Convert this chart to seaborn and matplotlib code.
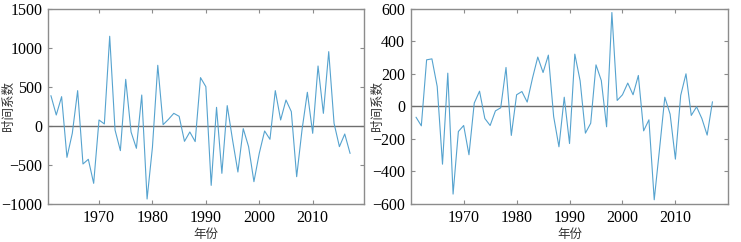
import numpy as np
import pandas as pd
import matplotlib
matplotlib.use("Agg")
import matplotlib.pyplot as plt
import seaborn as sns

# data
years = list(range(1961, 2018))
coef_left = [389, 141, 376, -402, -94, 453, -487, -427, -735, 77,
             26, 1150, -51, -316, 598, -77, -286, 397, -936, -274,
             778, 17, 85, 162, 124, -197, -77, -200, 620, 504,
             -761, 239, -607, 261, -179, -590, -34, -265, -714, -350,
             -64, -171, 453, 77, 333, 184, -650, -51, 432, -94,
             769, 162, 953, 34, -265, -103, -352]
coef_right = [-66, -119, 287, 293, 123, -355, 205, -539, -154, -117,
              -297, 21, 94, -74, -117, -27, -8, 240, -178, 72,
              92, 27, 174, 304, 209, 316, -62, -248, 57, -228,
              322, 158, -164, -103, 256, 160, -125, 578, 37, 72,
              144, 72, 191, -150, -82, -574, -263, 57, -47, -324,
              68, 201, -55, -2, -74, -176, 29]

df = pd.DataFrame({"year": years, "left": coef_left, "right": coef_right})

sns.set_theme(style="ticks")
plt.rcParams['font.family'] = ['Liberation Serif', 'Noto Sans CJK SC']
plt.rcParams['axes.unicode_minus'] = True
plt.rcParams['xtick.direction'] = 'in'
plt.rcParams['ytick.direction'] = 'in'

line_color = '#56a3cf'
spine_color = '#8c8c8c'
cjk = ['Noto Sans CJK SC', 'DejaVu Sans']

fig = plt.figure(figsize=(7.41, 2.42), dpi=100)
ax1 = fig.add_axes([0.0644, 0.157, 0.4268, 0.806])
ax2 = fig.add_axes([0.5543, 0.157, 0.4286, 0.806])

panels = [
    (ax1, "left", (-1000, 1500), [-1000, -500, 0, 500, 1000, 1500], (1960.4, 2019.6), -0.125),
    (ax2, "right", (-600, 600), [-600, -400, -200, 0, 200, 400, 600], (1960, 2020), -0.106),
]

for ax, col, ylim, yticks, xlim, ylab_x in panels:
    ax.axhline(0, color='#6e6e6e', lw=1.0, zorder=1)
    sns.lineplot(data=df, x="year", y=col, ax=ax, color=line_color, lw=0.8, zorder=2)
    ax.set_xlim(*xlim)
    ax.set_ylim(*ylim)
    ax.set_xticks([1970, 1980, 1990, 2000, 2010])
    ax.set_yticks(yticks)
    ax.tick_params(axis='both', which='both', top=True, right=True,
                   labelsize=11.5, length=3, width=0.8, color=spine_color,
                   pad=4, labelcolor='#000000')
    for s in ax.spines.values():
        s.set_color(spine_color)
        s.set_linewidth(1.0)
    ax.set_xlabel("年份", family=cjk, fontsize=9, color='#333333')
    ax.set_ylabel("时间系数", family=cjk, fontsize=9, color='#333333')
    ax.xaxis.set_label_coords(0.5, -0.125)
    ax.yaxis.set_label_coords(ylab_x, 0.5)
    ax.yaxis.label.set_verticalalignment('center')

fig.savefig("out.png", dpi=100)
